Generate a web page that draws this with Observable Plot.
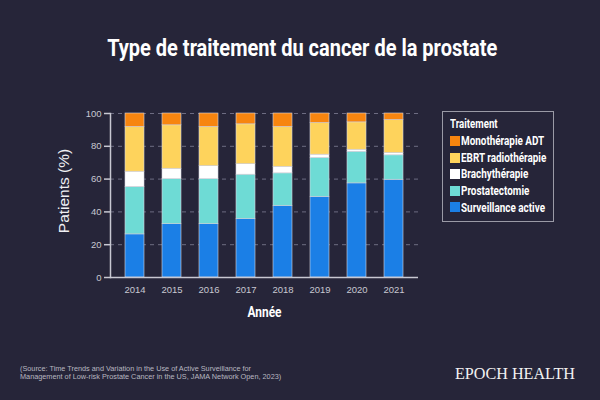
<!DOCTYPE html>
<html><head><meta charset="utf-8">
<script src="https://cdn.jsdelivr.net/npm/d3@7"></script>
<script src="https://cdn.jsdelivr.net/npm/@observablehq/plot@0.6"></script>
<style>
  html,body{margin:0;padding:0;background:#262539;}
  #wrap{position:relative;width:600px;height:400px;overflow:hidden;background:#262539;font-family:Roboto,"Liberation Sans",sans-serif;}
  .fit{display:inline-block;white-space:nowrap;transform-origin:left center;}
  #title{position:absolute;left:0;top:36px;width:604px;text-align:center;color:#fff;font-weight:bold;font-size:24px;line-height:24px;}
  #title .fit{transform-origin:center center;}
  #chart{position:absolute;left:0;top:0;}
  #ylab{position:absolute;left:63.5px;top:191px;transform:translate(-50%,-50%) rotate(-90deg);white-space:nowrap;color:#f0f0f4;font-family:"Liberation Sans",Arial,sans-serif;font-size:15.5px;line-height:16px;}
  #legend{position:absolute;left:441.7px;top:110.7px;width:112px;height:111.5px;border:1.5px solid #9a9aa6;box-sizing:border-box;color:#fff;font-weight:bold;font-size:12.7px;line-height:12.7px;}
  #legend .t{position:absolute;left:7.5px;top:6.1px;}
  #legend .sw{position:absolute;left:7.5px;width:10px;height:10px;}
  #legend .lt{position:absolute;left:18.5px;}
  #source{position:absolute;left:20px;top:364.5px;color:#b8b8c0;font-family:"Liberation Sans",Arial,sans-serif;font-size:7.3px;line-height:8.5px;}
  #brand{position:absolute;left:455px;top:363.5px;color:#f2f2f2;font-family:"Liberation Serif","DejaVu Serif",serif;font-size:16.8px;line-height:20px;}
</style></head>
<body><div id="wrap">
<div id="title"><span class="fit" data-w="390">Type de traitement du cancer de la prostate</span></div>
<div id="chart"></div>
<div id="ylab">Patients (%)</div>
<div id="legend"></div>
<div id="source">(Source: Time Trends and Variation in the Use of Active Surveillance for<br>Management of Low-risk Prostate Cancer in the US, JAMA Network Open, 2023)</div>
<div id="brand"><span class="fit" data-w="120">EPOCH HEALTH</span></div>
</div>
<script>
const years = ["2014","2015","2016","2017","2018","2019","2020","2021"];
const categories = ["Surveillance active","Prostatectomie","Brachythérapie","EBRT radiothérapie","Monothérapie ADT"];
const colors = ["#1b7fe6","#6edbd5","#ffffff","#fed35c","#f7850f"];
const surveillance = [26.3, 32.5, 32.5, 35.7, 43.6, 49.2, 57.4, 59.6];
const prostatectomie = [28.9, 27.5, 27.5, 27.0, 19.9, 23.7, 19.3, 14.9];
const brachy = [9.3, 6.3, 7.9, 6.4, 4.0, 2.0, 1.2, 1.4];
const ebrt = [27.3, 26.5, 23.9, 24.3, 24.3, 19.3, 16.7, 20.1];
const adt = [8.2, 7.2, 8.2, 6.6, 8.2, 5.8, 5.4, 4.0];
const yTicks = [0, 20, 40, 60, 80, 100];
const legendTitle = "Traitement";
const legendOrder = ["Monothérapie ADT","EBRT radiothérapie","Brachythérapie","Prostatectomie","Surveillance active"];

const series = [surveillance, prostatectomie, brachy, ebrt, adt];
const data = [];
years.forEach((yr, i) => {
  categories.forEach((c, j) => data.push({year: yr, cat: c, value: series[j][i]}));
});

const axisCol = "#c8c8d2";
const chart = Plot.plot({
  width: 600, height: 340,
  marginTop: 113, marginBottom: 63, marginLeft: 110, marginRight: 182,
  style: {background: "transparent", color: axisCol, fontSize: "9.5px", fontFamily: '"Liberation Sans",Arial,sans-serif'},
  x: {domain: years, paddingInner: 0.5, paddingOuter: 0.35, label: null},
  y: {domain: [0, 100], label: null},
  color: {domain: categories, range: colors},
  marks: [
    Plot.gridY(yTicks, {stroke: "#75758a", strokeOpacity: 1, strokeDasharray: "4,4", strokeWidth: 0.9}),
    Plot.barY(data, {x: "year", y: "value", fill: "cat", stroke: "#d8d8e0", strokeWidth: 0.6, order: null}),
    Plot.ruleY([0], {stroke: axisCol, strokeWidth: 1.5}),
    Plot.frame({anchor: "left", stroke: axisCol, strokeWidth: 1.5}),
    Plot.axisY(yTicks, {tickSize: 6, tickPadding: 3, tickStrokeWidth: 1.5, stroke: axisCol, strokeWidth: 1.5, label: null, fill: axisCol, fontSize: 9.5}),
    Plot.axisX({tickSize: 0, tickPadding: 9, label: null, fill: axisCol, fontSize: 9.5}),
    Plot.text(["Année"], {frameAnchor: "bottom", dy: 39, fill: "#fff", fontWeight: "bold", fontSize: 15, fontFamily: 'Roboto,"Liberation Sans",sans-serif'})
  ]
});
document.getElementById("chart").appendChild(chart);
d3.select(chart).selectAll("text").filter(function(){ return this.textContent === "Année"; })
  .attr("textLength", 34).attr("lengthAdjust", "spacingAndGlyphs");

const lg = document.getElementById("legend");
const t = document.createElement("span"); t.className = "t fit"; t.dataset.w = "47.6"; t.textContent = legendTitle; lg.appendChild(t);
legendOrder.forEach((c, i) => {
  const s = document.createElement("div"); s.className = "sw"; s.style.top = (24.3 + i * 16.6) + "px";
  s.style.background = colors[categories.indexOf(c)]; lg.appendChild(s);
  const d = document.createElement("span"); d.className = "lt fit legtxt"; d.style.top = (23.6 + i * 16.6) + "px";
  d.textContent = c; lg.appendChild(d);
  if (c === "Surveillance active") d.dataset.ref = "84";
});

function fit() {
  document.querySelectorAll(".fit[data-w]").forEach(el => {
    el.style.transform = "none";
    const w = el.getBoundingClientRect().width;
    el.style.transform = `scaleX(${(+el.dataset.w / w).toFixed(4)})`;
  });
  const ref = document.querySelector(".legtxt[data-ref]");
  ref.style.transform = "none";
  const k = +ref.dataset.ref / ref.getBoundingClientRect().width;
  document.querySelectorAll(".legtxt").forEach(el => el.style.transform = `scaleX(${k.toFixed(4)})`);
}
fit();
if (document.fonts && document.fonts.ready) document.fonts.ready.then(fit);
</script>
</body></html>
